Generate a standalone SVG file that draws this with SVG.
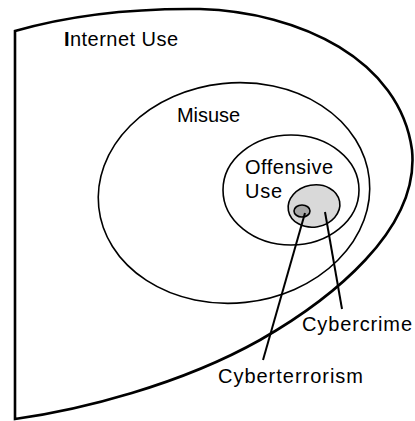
<svg xmlns="http://www.w3.org/2000/svg" width="415" height="421" viewBox="0 0 415 421">
<style>
.t{font-family:"Liberation Sans",Arial,sans-serif;font-size:20px;fill:#000}
.e{fill:none;stroke:#000;stroke-width:1.6}
.c{stroke:#000;stroke-width:2;fill:none}
</style>
<rect width="415" height="421" fill="#fff"/>
<g id="internet-use">
<path d="M15,419 L15,31 C60,18 120,8 200,9 C300,12 400,60 412,150 C420,230 330,300 260,340 C180,385 80,410 15,419 Z" fill="none" stroke="#000" stroke-width="2.6" stroke-linejoin="miter"/>
<text class="t" x="64" y="46" textLength="114"><tspan font-weight="bold">I</tspan>nternet Use</text>
</g>
<g id="misuse">
<ellipse class="e" cx="234" cy="193" rx="136" ry="110" transform="rotate(-6 234 193)"/>
<text class="t" x="177" y="122" textLength="63">Misuse</text>
</g>
<g id="offensive-use">
<ellipse class="e" cx="291" cy="190" rx="68" ry="55"/>
<text class="t" x="245" y="174" textLength="88">Offensive</text>
<text class="t" x="245" y="198" textLength="37">Use</text>
</g>
<g id="cybercrime">
<ellipse cx="314" cy="206" rx="26" ry="21" fill="#d9d9d9" stroke="#000" stroke-width="1.6" transform="rotate(-10 314 206)"/>
<text class="t" x="302" y="331" textLength="110">Cybercrime</text>
</g>
<g id="cyberterrorism">
<ellipse cx="302" cy="211" rx="8" ry="6" fill="#a6a6a6" stroke="#000" stroke-width="1.6"/>
<text class="t" x="218" y="383" textLength="145">Cyberterrorism</text>
</g>
<g id="connectors">
<line class="c" x1="305" y1="213" x2="263" y2="360"/>
<line class="c" x1="325" y1="212" x2="342" y2="309"/>
</g>
</svg>
